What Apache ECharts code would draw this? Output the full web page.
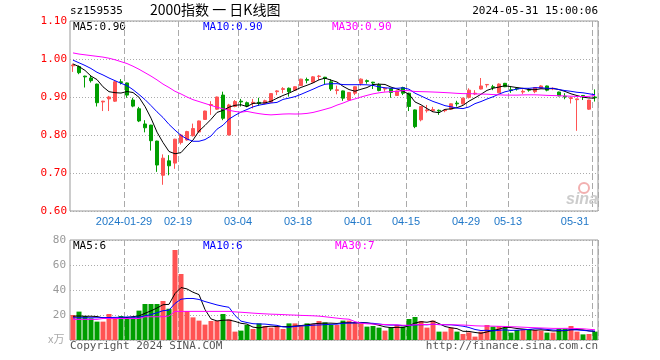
<!DOCTYPE html>
<html><head><meta charset="utf-8">
<script src="https://cdn.jsdelivr.net/npm/echarts/dist/echarts.min.js"></script>
<style>html,body{margin:0;padding:0;background:#fff}#c{width:660px;height:360px}</style>
</head><body><div id="c"></div>
<script>
const dates = [
'2024-01-16','2024-01-17','2024-01-18','2024-01-19','2024-01-22','2024-01-23','2024-01-24','2024-01-25','2024-01-26',
'2024-01-29','2024-01-30','2024-01-31','2024-02-01','2024-02-02','2024-02-05','2024-02-06','2024-02-07','2024-02-08',
'2024-02-19','2024-02-20','2024-02-21','2024-02-22','2024-02-23','2024-02-26','2024-02-27','2024-02-28','2024-02-29','2024-03-01',
'2024-03-04','2024-03-05','2024-03-06','2024-03-07','2024-03-08','2024-03-11','2024-03-12','2024-03-13','2024-03-14','2024-03-15',
'2024-03-18','2024-03-19','2024-03-20','2024-03-21','2024-03-22','2024-03-25','2024-03-26','2024-03-27','2024-03-28','2024-03-29',
'2024-04-01','2024-04-02','2024-04-03','2024-04-08','2024-04-09','2024-04-10','2024-04-11','2024-04-12',
'2024-04-15','2024-04-16','2024-04-17','2024-04-18','2024-04-19','2024-04-22','2024-04-23','2024-04-24','2024-04-25','2024-04-26',
'2024-04-29','2024-04-30','2024-05-06','2024-05-07','2024-05-08','2024-05-09','2024-05-10',
'2024-05-13','2024-05-14','2024-05-15','2024-05-16','2024-05-17','2024-05-20','2024-05-21','2024-05-22','2024-05-23','2024-05-24',
'2024-05-27','2024-05-28','2024-05-29','2024-05-30','2024-05-31'];
const tickDates = ['2024-01-29','2024-02-19','2024-03-04','2024-03-18','2024-04-01','2024-04-15','2024-04-29','2024-05-13','2024-05-31'];
const tickLabels = ['2024-01-29','02-19','03-04','03-18','04-01','04-15','04-29','05-13','05-31'];

const opens = [0.982,0.980,0.955,0.950,0.934,0.887,0.895,0.889,0.940,0.937,0.892,0.869,0.829,0.826,0.784,0.694,0.732,0.726,
0.780,0.787,0.798,0.808,0.841,0.878,0.868,0.905,0.800,0.875,0.889,0.885,0.883,0.886,0.883,0.886,0.914,0.920,0.923,0.918,
0.930,0.946,0.939,0.954,0.952,0.940,0.917,0.916,0.892,0.910,0.936,0.943,0.939,0.932,0.921,0.922,0.904,0.925,
0.910,0.866,0.840,0.864,0.864,0.865,0.864,0.868,0.884,0.882,0.899,0.908,0.921,0.932,0.927,0.911,0.936,
0.919,0.923,0.913,0.920,0.914,0.923,0.929,0.921,0.913,0.902,0.896,0.893,0.904,0.868,0.900];
const closes = [0.984,0.964,0.953,0.943,0.885,0.889,0.900,0.940,0.938,0.905,0.876,0.837,0.819,0.785,0.721,0.739,0.719,0.789,
0.800,0.809,0.817,0.837,0.863,0.880,0.900,0.844,0.879,0.888,0.887,0.876,0.886,0.883,0.890,0.909,0.916,0.922,0.914,0.927,
0.947,0.944,0.953,0.955,0.949,0.921,0.919,0.897,0.912,0.927,0.947,0.941,0.937,0.917,0.923,0.912,0.916,0.910,
0.875,0.822,0.875,0.866,0.867,0.863,0.866,0.882,0.882,0.897,0.918,0.910,0.929,0.933,0.925,0.934,0.927,
0.917,0.921,0.915,0.918,0.925,0.929,0.918,0.923,0.903,0.900,0.898,0.895,0.902,0.892,0.898];
const lows = [0.966,0.960,0.925,0.938,0.875,0.863,0.863,0.887,0.933,0.898,0.873,0.834,0.807,0.759,0.703,0.669,0.694,0.711,
0.775,0.785,0.796,0.806,0.840,0.853,0.866,0.839,0.799,0.873,0.875,0.873,0.870,0.877,0.881,0.885,0.905,0.910,0.901,0.917,
0.929,0.936,0.938,0.945,0.933,0.916,0.907,0.890,0.890,0.905,0.930,0.935,0.921,0.915,0.914,0.898,0.903,0.905,
0.863,0.818,0.836,0.859,0.860,0.853,0.860,0.866,0.875,0.880,0.896,0.905,0.920,0.925,0.918,0.910,0.926,
0.911,0.917,0.908,0.914,0.910,0.922,0.915,0.918,0.902,0.894,0.883,0.811,0.892,0.866,0.888];
const highs = [0.988,0.983,0.956,0.957,0.935,0.890,0.903,0.942,0.947,0.938,0.898,0.874,0.839,0.827,0.785,0.749,0.747,0.790,
0.803,0.811,0.830,0.838,0.864,0.889,0.901,0.914,0.882,0.892,0.895,0.888,0.895,0.898,0.893,0.910,0.918,0.926,0.925,0.928,
0.948,0.951,0.955,0.958,0.953,0.947,0.930,0.917,0.913,0.928,0.949,0.946,0.940,0.936,0.925,0.923,0.917,0.927,
0.911,0.867,0.876,0.879,0.874,0.867,0.868,0.883,0.890,0.898,0.923,0.918,0.950,0.934,0.932,0.936,0.937,
0.927,0.925,0.920,0.923,0.926,0.931,0.930,0.925,0.914,0.910,0.901,0.896,0.905,0.893,0.920];

const volumes = [20,22.7,19.2,17.3,14.7,14.7,20.8,18.1,19.2,17.3,18.1,23.5,28.8,28.8,28.8,31.2,25,72,
52.8,23.2,18.1,15.5,12.3,15.2,15.2,20.8,16.5,6.7,7.5,12,8.8,13.3,11.2,9.9,10.4,8.8,13.3,13.3,
12,13.3,12.8,15.2,14.1,12,12,15.5,15.5,13.9,13.3,10.7,11.2,9.9,7.5,10.1,12,10.7,
16.8,18.4,15.2,9.9,15.5,6.7,6.7,9.9,6.7,4.8,6.1,2.7,6.7,12,10.7,11.2,10.1,
5.9,8,8.5,8.8,8,7.5,5.9,5.9,9.1,9.1,11.2,6.7,4.5,4.8,6.7];

// moving-average values for days before each window is full
const ma5Head = [0.987,0.980,0.970,0.955];
const ma10Head = [0.997,0.990,0.983,0.975,0.965,0.958,0.950,0.943,0.936];
const ma30Head = [1.016,1.013,1.011,1.009,1.007,1.005,1.002,0.998,0.993,0.988,0.981,0.973,0.964,0.955,0.945,
0.934,0.925,0.915,0.908,0.900,0.893,0.888,0.883,0.878,0.873,0.869,0.865,0.862,0.860];
const volMa5Head = [19.0,19.2,19.0,19.0];
const volMa10Head = [17.8,17.8,17.8,17.8,17.8,17.9,18.0,18.1,18.2];
const volMa30Head = [16.5,16.5,16.5,16.5,16.5,17.2,17.2,17.2,17.2,17.2,17.2,17.2,18.6,18.6,18.6,18.6,19.2,
22.9,22.9,22.9,22.9,22.9,22.9,22.9,22.9,22.9,22.9,22.5,22.2];

const UP = '#ff5353', DOWN = '#009e00';
const MONO = '"DejaVu Sans Mono", monospace';

function movingAvg(vals, n, head) {
  return vals.map((v, i) => {
    if (i < n - 1) return head[i];
    let s = 0; for (let k = i - n + 1; k <= i; k++) s += vals[k];
    return +(s / n).toFixed(4);
  });
}
const candles = dates.map((d, i) => [opens[i], closes[i], lows[i], highs[i]]);
const volData = volumes.map((v, i) => ({value: v, itemStyle: {color: closes[i] >= opens[i] ? UP : DOWN}}));
const tickSet = new Set(tickDates);

function lineSeries(data, color, xi, yi) {
  return {type: 'line', data, xAxisIndex: xi, yAxisIndex: yi, showSymbol: false, symbol: 'none',
    lineStyle: {color, width: 1}, itemStyle: {color}, silent: true, z: 5};
}
const xCommon = {
  type: 'category', data: dates, boundaryGap: true,
  axisLine: {show: false}, axisTick: {show: false},
  splitLine: {show: true, interval: (i, v) => tickSet.has(v), lineStyle: {color: '#aaa', type: [6, 3], width: 1}}
};

const chart = echarts.init(document.getElementById('c'), null, {renderer: 'canvas'});
chart.setOption({
  animation: false,
  backgroundColor: '#fff',
  grid: [
    {left: 70, top: 21, width: 528, height: 190, show: true, borderColor: '#999', borderWidth: 1},
    {left: 70, top: 240, width: 528, height: 100, show: true, borderColor: '#999', borderWidth: 1}
  ],
  xAxis: [
    Object.assign({}, xCommon, {gridIndex: 0,
      axisLabel: {show: true, interval: (i, v) => tickSet.has(v), alignMaxLabel: 'right',
        formatter: v => tickLabels[tickDates.indexOf(v)], color: '#1f77c8', fontSize: 11,
        fontFamily: 'Arial, "Liberation Sans", sans-serif', margin: 5, padding: [0, 6, 0, 0]}}),
    Object.assign({}, xCommon, {gridIndex: 1, axisLabel: {show: false}})
  ],
  yAxis: [
    {gridIndex: 0, min: 0.6, max: 1.1, interval: 0.1, position: 'left',
      axisLine: {show: false}, axisTick: {show: false},
      axisLabel: {color: '#ff0000', fontSize: 11, fontFamily: MONO, margin: 3, formatter: v => v.toFixed(2)},
      splitLine: {show: true, lineStyle: {color: '#aaa', type: [1, 2]}}},
    {gridIndex: 1, min: 0, max: 80, interval: 20, position: 'left',
      axisLine: {show: false}, axisTick: {show: false},
      axisLabel: {color: '#999', fontSize: 11, fontFamily: MONO, margin: 4, formatter: v => v === 0 ? '' : String(v)},
      splitLine: {show: true, lineStyle: {color: '#aaa', type: [1, 2]}}}
  ],
  series: [
    {type: 'candlestick', xAxisIndex: 0, yAxisIndex: 0, data: candles, barWidth: 4, silent: true,
      itemStyle: {color: UP, color0: DOWN, borderColor: UP, borderColor0: DOWN, borderWidth: 1}},
    lineSeries(movingAvg(closes, 5, ma5Head), '#000000', 0, 0),
    lineSeries(movingAvg(closes, 10, ma10Head), '#0000ff', 0, 0),
    lineSeries(movingAvg(closes, 30, ma30Head), '#ff00ff', 0, 0),
    {type: 'bar', xAxisIndex: 1, yAxisIndex: 1, data: volData, barWidth: 5, silent: true},
    lineSeries(movingAvg(volumes, 5, volMa5Head), '#000000', 1, 1),
    lineSeries(movingAvg(volumes, 10, volMa10Head), '#0000ff', 1, 1),
    lineSeries(movingAvg(volumes, 30, volMa30Head), '#ff00ff', 1, 1)
  ],
  graphic: [
    {type: 'text', left: 70, top: 6, style: {text: 'sz159535', font: '11px ' + MONO, fill: '#000'}},
    {type: 'text', left: 150, top: 3, style: {text: '2000指数 一 日K线图', font: '14px "Noto Sans CJK SC", sans-serif', fill: '#000'}},
    {type: 'text', right: 62, top: 6, style: {text: '2024-05-31 15:00:06', font: '11px ' + MONO, fill: '#000'}},
    {type: 'text', left: 73, top: 22, style: {text: 'MA5:0.90', font: '11px ' + MONO, fill: '#000'}},
    {type: 'text', left: 203, top: 22, style: {text: 'MA10:0.90', font: '11px ' + MONO, fill: '#0000ff'}},
    {type: 'text', left: 332, top: 22, style: {text: 'MA30:0.90', font: '11px ' + MONO, fill: '#ff00ff'}},
    {type: 'text', left: 73, top: 241, style: {text: 'MA5:6', font: '11px ' + MONO, fill: '#000'}},
    {type: 'text', left: 203, top: 241, style: {text: 'MA10:6', font: '11px ' + MONO, fill: '#0000ff'}},
    {type: 'text', left: 335, top: 241, style: {text: 'MA30:7', font: '11px ' + MONO, fill: '#ff00ff'}},
    {type: 'text', left: 48, top: 333, style: {text: 'x万', font: '11px "Noto Sans CJK SC", sans-serif', fill: '#aaa'}},
    {type: 'text', left: 70, top: 341, style: {text: 'Copyright 2024 SINA.COM', font: '11px ' + MONO, fill: '#555'}},
    {type: 'text', right: 62, top: 341, style: {text: 'http://finance.sina.com.cn', font: '11px ' + MONO, fill: '#555'}},
    {type: 'circle', shape: {cx: 584, cy: 188, r: 5}, style: {fill: 'none', stroke: '#f2b0b0', lineWidth: 2}, z: 1},
    {type: 'text', left: 566, top: 192, style: {text: 'sina', font: 'italic bold 16px "Liberation Sans", Arial, sans-serif', fill: '#cccccc'}, z: 1}
  ]
});
</script></body></html>
